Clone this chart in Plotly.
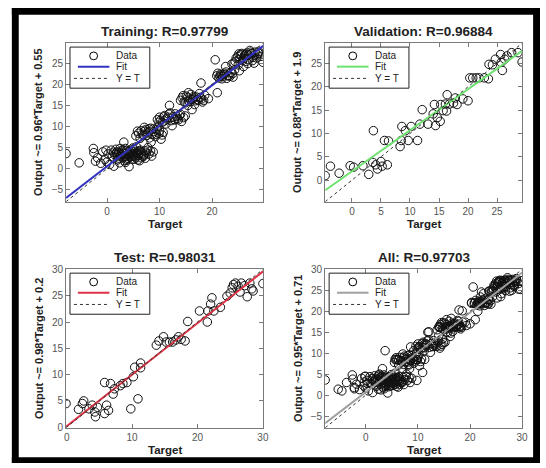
import plotly.graph_objects as go

W, H = 546, 468

# ---------------- data ----------------
titles = ["Training: R=0.97799", "Validation: R=0.96884", "Test: R=0.98031", "All: R=0.97703"]
ylabels = ["Output ~= 0.96*Target + 0.55", "Output ~= 0.88*Target + 1.9",
           "Output ~= 0.98*Target + 0.2", "Output ~= 0.95*Target + 0.71"]
xlabel = "Target"
legend_labels = ["Data", "Fit", "Y = T"]
fit_slopes = [0.96, 0.88, 0.98, 0.95]
fit_intercepts = [0.55, 1.9, 0.2, 0.71]
fit_colors = ["#3232c0", "#6ee26e", "#dd3344", "#a0a0a0"]
x_dticks = [10, 5, 10, 10]

train_target = [
    -7.8, -5.3, -2.6, -2.5, -2.2, -1.8, -1.2, -0.8, -0.4, 0.2, 0.5, 0.8, 1.0, 1.3, 1.5, 1.7,
    2.0, 2.2, 2.4, 2.6, 2.8, 3.0, 3.1, 3.3, 3.5, 3.6, 3.8, 3.9, 4.1, 4.2, 4.3, 4.5, 4.6, 4.8,
    5.0, 5.1, 5.3, 5.5, 5.6, 5.8, 6.0, 6.2, 6.4, 6.6, 6.9, 7.2, 7.5, 7.8, 8.3, 8.8, 3.2, 2.0,
    4.0, 4.4, 2.9, 3.7, 4.9, 5.4, 1.8, 6.8,
    1.2, 1.9, 2.3, 2.7, 3.0, 3.4, 3.7, 4.0, 4.3, 4.7, 5.2, 5.4, 5.7, 6.1, 6.5, 7.0, 7.3, 7.7,
    8.0, 2.5, 3.5, 4.9, 6.3, 0.0, -0.2, 5.9, 8.5,
    5.5, 6.0, 6.5, 7.0, 7.4, 7.8, 8.1, 8.3, 8.6, 8.9, 9.2, 9.5, 9.9, 10.3, 10.7, 8.4, 6.3, 9.7,
    7.2, 8.0, 5.8, 6.7, 7.1, 7.6, 8.0, 8.8, 9.4, 10.0, 10.5,
    9.6, 10.0, 10.5, 11.0, 11.4, 11.8, 12.2, 12.6, 13.0, 13.4, 13.8, 14.2, 14.6, 11.9, 12.4, 9.9,
    10.8, 12.9, 10.2, 10.9, 11.6, 12.0, 12.8, 13.2, 13.6, 14.0, 14.9, 11.2,
    14.0, 14.5, 14.9, 15.3, 15.6, 16.0, 16.3, 16.7, 17.0, 17.4, 17.8, 18.2, 18.6, 16.2, 17.9,
    15.5, 19.3, 16.5, 17.2, 14.3, 14.7, 15.1, 15.9, 16.5, 16.9, 17.6, 18.0, 18.4, 15.4,
    20.6, 20.9, 21.3, 21.6, 22.0, 22.4, 22.8, 23.2, 23.6, 24.0, 21.0, 22.6, 24.3, 21.8, 23.0,
    21.1, 21.5, 22.2, 22.7, 23.4, 23.9, 21.9,
    24.2, 24.6, 25.0, 25.4, 25.8, 26.2, 26.6, 27.0, 27.4, 27.8, 28.2, 28.6, 29.0, 29.7, 26.0,
    25.2, 27.2, 28.0, 23.8, 26.4, 27.6, 25.6, 28.8,
    24.4, 24.9, 25.3, 25.7, 26.1, 26.5, 26.9, 27.3, 27.7, 28.1, 28.5, 28.9, 29.3, 25.1, 26.8,
]
train_output = [
    3.6, 1.4, 4.8, 3.8, 1.8, 2.6, 1.3, 4.0, 2.2, 3.5, 1.0, 4.4, 2.8, 0.6, 3.3, 4.6,
    2.1, 3.8, 1.4, 3.0, 4.2, 2.6, 3.6, 1.9, 4.8, 3.1, 2.3, 4.0, 3.4, 0.5, 2.8, 4.4, 3.8, 2.2,
    3.0, 4.6, 3.6, 2.6, 5.2, 4.0, 3.2, 1.9, 4.4, 3.5, 2.9, 4.2, 3.7, 5.0, 4.2, 4.0, 6.3, 3.0,
    3.2, 3.9, 3.9, 2.0, 3.4, 4.1, 3.7, 3.0,
    3.9, 4.0, 2.5, 3.4, 4.5, 2.9, 4.3, 2.5, 3.5, 2.9, 2.3, 3.0, 3.6, 4.2, 2.6, 3.3, 2.5, 4.4,
    3.5, 4.8, 1.5, 4.9, 3.9, 1.6, 4.4, 2.1, 3.0,
    7.8, 8.4, 9.0, 8.0, 9.3, 8.5, 7.3, 9.6, 8.2, 8.8, 7.6, 9.2, 8.4, 7.0, 8.6, 6.3, 7.2, 10.0,
    8.9, 9.4, 8.9, 8.2, 9.8, 7.9, 8.8, 9.4, 8.1, 9.0, 8.0,
    11.6, 12.2, 11.0, 12.6, 11.8, 12.9, 11.4, 12.3, 13.0, 11.9, 12.6, 11.2, 12.1, 15.0, 10.2, 11.0,
    12.3, 11.6, 11.5, 11.3, 12.2, 13.2, 11.6, 12.4, 11.6, 12.9, 12.5, 10.6,
    16.2, 17.3, 15.6, 16.8, 16.0, 17.6, 16.4, 15.2, 17.0, 16.2, 16.9, 15.8, 17.4, 14.0, 20.3,
    18.0, 16.6, 16.7, 16.4, 16.8, 15.9, 17.2, 16.4, 17.1, 16.1, 17.8, 16.5, 16.2, 15.0,
    25.8, 22.0, 21.5, 22.4, 21.8, 22.6, 21.4, 22.1, 22.8, 21.7, 18.0, 24.2, 23.4, 22.2, 22.0,
    22.6, 21.9, 22.2, 22.9, 21.9, 22.5, 21.3,
    25.0, 26.2, 24.6, 27.0, 25.6, 26.8, 27.4, 25.9, 27.2, 26.4, 27.6, 27.0, 27.3, 25.2, 24.2,
    23.2, 28.0, 25.0, 24.8, 27.1, 27.3, 26.9, 27.4,
    25.4, 26.6, 25.9, 27.3, 26.1, 25.4, 26.9, 27.6, 25.6, 26.9, 26.2, 27.8, 26.6, 27.2, 24.9,
]

val_target = [
    -4.6, -3.7, -2.2, -0.3, 0.3, 1.9, 2.9, 3.7, 3.6, 4.1, 4.4, 5.0, 5.2, 5.6, 6.3, 6.1,
    8.3, 8.5, 8.6, 9.2, 9.7, 10.2, 11.3, 11.7, 12.1, 13.1, 14.0, 14.2, 14.4, 14.7, 15.2, 15.3,
    15.7, 16.1, 16.4, 16.3, 16.8, 17.5, 17.8, 18.1, 19.1, 20.0, 20.3, 20.8, 21.4, 21.9, 22.8,
    23.5, 23.6, 24.2, 24.7, 25.6, 25.7, 25.9, 26.3, 26.7, 27.5, 28.6, 29.3,
]
val_output = [
    1.0, 3.0, 1.5, 3.1, 2.8, 3.1, 1.25, 10.6, 3.8, 3.3, 2.4, 4.0, 3.0, 8.5, 8.4, 3.3,
    7.2, 8.5, 11.5, 10.6, 8.5, 11.5, 8.5, 12.0, 15.1, 12.0, 14.2, 16.2, 11.7, 13.4, 12.6, 16.2,
    14.9, 16.3, 18.3, 14.8, 16.3, 16.5, 17.6, 16.2, 17.4, 17.0, 21.9, 21.9, 21.9, 21.9, 21.9,
    21.7, 24.8, 24.7, 25.9, 26.9, 25.2, 23.5, 25.9, 26.6, 27.3, 27.3, 25.3,
]

test_target = [
    -0.1, 1.8, 2.4, 2.6, 3.4, 3.9, 4.3, 4.4, 4.7, 5.8, 5.8, 6.1, 6.4, 6.7, 7.1, 7.3,
    8.2, 8.6, 9.2, 9.8, 10.2, 10.4, 10.9, 11.3, 11.3, 13.7, 14.1, 14.8, 15.2, 15.7, 16.2,
    16.7, 17.1, 17.5, 18.1, 18.5, 20.3, 21.5, 21.6, 22.0, 22.2, 22.5, 23.5, 24.5, 25.0, 25.5,
    25.8, 26.2, 26.5, 26.7, 27.2, 27.6, 28.0, 28.3, 28.5, 30.0, 25.3,
]
test_output = [
    4.5, 3.4, 4.5, 5.0, 3.5, 4.2, 2.9, 2.0, 3.8, 8.5, 2.6, 4.2, 3.2, 8.3, 6.3, 7.3,
    7.9, 8.3, 8.5, 3.5, 9.6, 11.4, 5.4, 11.3, 12.2, 15.6, 16.4, 17.2, 16.2, 16.2, 16.2,
    16.6, 17.2, 16.7, 16.4, 20.1, 22.1, 20.0, 22.1, 23.4, 24.6, 22.1, 22.8, 24.9, 25.5, 27.1,
    27.4, 26.8, 25.7, 27.4, 26.9, 24.8, 27.4, 26.3, 25.9, 27.3, 26.5,
]

all_target = train_target + val_target + test_target
all_output = train_output + val_output + test_output

sets = [(train_target, train_output), (val_target, val_output),
        (test_target, test_output), (all_target, all_output)]

# ---------------- layout geometry (pixels) ----------------
boxes = [(65, 39, 265, 201), (328, 39, 528, 201), (65, 270, 265, 432), (328, 270, 528, 432)]


def px(x):
    return x / W


def py(y):
    return 1 - y / H


fig = go.Figure()
layout = dict(width=W, height=H, margin=dict(l=0, r=0, t=0, b=0),
              paper_bgcolor="white", plot_bgcolor="white", showlegend=False,
              font=dict(family="Liberation Sans, Arial, sans-serif", color="#222"))
annotations = []
shapes = []

for i, ((t, o), box) in enumerate(zip(sets, boxes)):
    n = i + 1
    xs = "" if n == 1 else str(n)
    lo = min(min(t), min(o))
    hi = max(max(t), max(o)) + 0.03
    x0, y0, x1, y1 = box

    fig.add_trace(go.Scatter(x=t, y=o, mode="markers", xaxis="x" + xs, yaxis="y" + xs,
                             marker=dict(symbol="circle-open", size=8.5, color="#111",
                                         line=dict(width=1, color="#111")),
                             name=legend_labels[0], hoverinfo="skip"))
    fx = [lo, hi]
    fy = [fit_slopes[i] * v + fit_intercepts[i] for v in fx]
    fig.add_trace(go.Scatter(x=fx, y=fy, mode="lines", xaxis="x" + xs, yaxis="y" + xs,
                             line=dict(color=fit_colors[i], width=2), name=legend_labels[1]))
    fig.add_trace(go.Scatter(x=fx, y=fx, mode="lines", xaxis="x" + xs, yaxis="y" + xs,
                             line=dict(color="#333", width=1, dash="dot"), name=legend_labels[2]))

    ax = dict(showline=True, linecolor="#7a7a7a", linewidth=1, mirror="ticks",
              ticks="inside", ticklen=4, tickcolor="#7a7a7a", showgrid=False,
              zeroline=False, tickfont=dict(size=10, color="#555"), range=[lo, hi])
    layout["xaxis" + xs] = dict(ax, domain=[px(x0), px(x1)], anchor="y" + xs,
                                dtick=x_dticks[i], tick0=0)
    layout["yaxis" + xs] = dict(ax, domain=[py(y1), py(y0)], anchor="x" + xs,
                                dtick=5, tick0=0)

    cx = (x0 + x1) / 2
    cy = (y0 + y1) / 2
    annotations.append(dict(text="<b>%s</b>" % titles[i], x=px(cx), y=py(y0 - 12),
                            xref="paper", yref="paper", showarrow=False,
                            font=dict(size=13.5, color="#222"), xanchor="center", yanchor="middle"))
    annotations.append(dict(text="<b>%s</b>" % xlabel, x=px(cx), y=py(y1 + 23),
                            xref="paper", yref="paper", showarrow=False,
                            font=dict(size=11.5, color="#222"), xanchor="center", yanchor="middle"))
    annotations.append(dict(text="<b>%s</b>" % ylabels[i], x=px(x0 - 28), y=py(cy),
                            xref="paper", yref="paper", showarrow=False, textangle=-90,
                            font=dict(size=11, color="#222"), xanchor="center", yanchor="middle"))

    # legend box (drawn in axis-domain coordinates)
    xr = "x%s domain" % xs
    yr = "y%s domain" % xs
    bw, bh = x1 - x0, y1 - y0

    def dx(p):
        return p / bw

    def dy(p):
        return 1 - p / bh

    shapes.append(dict(type="rect", xref=xr, yref=yr, x0=dx(4), x1=dx(85), y0=dy(46), y1=dy(4),
                       line=dict(color="#222", width=1), fillcolor="white", layer="above"))
    shapes.append(dict(type="circle", xref=xr, yref=yr, x0=dx(24), x1=dx(32), y0=dy(17), y1=dy(9),
                       line=dict(color="black", width=1), layer="above"))
    shapes.append(dict(type="line", xref=xr, yref=yr, x0=dx(12), x1=dx(44), y0=dy(24), y1=dy(24),
                       line=dict(color=fit_colors[i], width=2), layer="above"))
    shapes.append(dict(type="line", xref=xr, yref=yr, x0=dx(8), x1=dx(43), y0=dy(36), y1=dy(36),
                       line=dict(color="#333", width=1, dash="dot"), layer="above"))
    for k, lab in enumerate(legend_labels):
        annotations.append(dict(text=lab, xref=xr, yref=yr, x=dx(49), y=dy([13, 24, 36][k]),
                                showarrow=False, xanchor="left", yanchor="middle",
                                font=dict(size=10, color="#222")))

# black photo frame
frame_color = "black"
for (a, b, c, d) in [(10, 3, 17, 468), (10, 3, 546, 10), (539, 3, 546, 468), (10, 462, 546, 468)]:
    shapes.append(dict(type="rect", xref="paper", yref="paper", x0=px(a), x1=px(c),
                       y0=py(d), y1=py(b), fillcolor=frame_color, line=dict(width=0),
                       layer="above"))

layout["annotations"] = annotations
layout["shapes"] = shapes
fig.update_layout(**layout)
fig.write_html("out.html")
